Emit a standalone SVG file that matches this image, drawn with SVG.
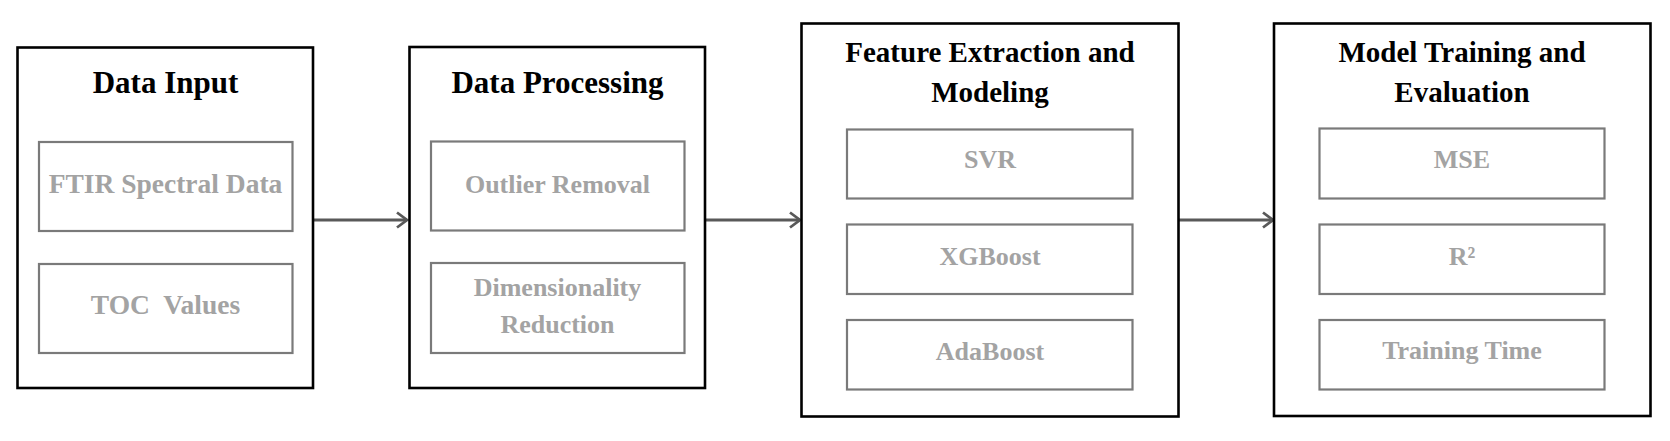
<svg xmlns="http://www.w3.org/2000/svg" width="1670" height="441" viewBox="0 0 1670 441">
<style>
.outer{fill:#fff;stroke:#000;stroke-width:2.6}
.inner{fill:#fff;stroke:#7a7a7a;stroke-width:2.2}
.title{font-family:"Liberation Serif","Times New Roman",serif;font-weight:bold;font-size:29px;fill:#000;text-anchor:middle}
.big{font-size:31px}
.item{font-family:"Liberation Serif","Times New Roman",serif;font-weight:bold;font-size:26px;fill:#a3a3a3;text-anchor:middle}
.bigitem{font-size:27.5px}
.conn{fill:none;stroke:#595959;stroke-width:2.8}
</style>
<defs>
<marker id="arr" markerUnits="userSpaceOnUse" markerWidth="20" markerHeight="20" refX="13" refY="10" orient="auto">
<path d="M3,2.5 L13,10 L3,17.5" fill="none" stroke="#595959" stroke-width="2.8"/>
</marker>
</defs>
<g id="connectors">
<line class="conn" x1="313" y1="220" x2="407" y2="220" marker-end="url(#arr)"/>
<line class="conn" x1="705" y1="220" x2="800" y2="220" marker-end="url(#arr)"/>
<line class="conn" x1="1178" y1="220" x2="1273" y2="220" marker-end="url(#arr)"/>
</g>
<g id="data-input">
<rect class="outer" x="17.5" y="47.5" width="295.5" height="340.5"/>
<text class="title big" x="165.5" y="93">Data Input</text>
<rect class="inner" x="39" y="142" width="253.5" height="89"/>
<text class="item bigitem" x="165.5" y="193">FTIR Spectral Data</text>
<rect class="inner" x="39" y="264" width="253.5" height="89"/>
<text class="item bigitem" x="165.5" y="313.5" xml:space="preserve">TOC  Values</text>
</g>
<g id="data-processing">
<rect class="outer" x="409.5" y="47" width="295.5" height="341"/>
<text class="title big" x="557.5" y="93">Data Processing</text>
<rect class="inner" x="431" y="141.5" width="253.5" height="89"/>
<text class="item" x="557.5" y="192.5">Outlier Removal</text>
<rect class="inner" x="431" y="263" width="253.5" height="90"/>
<text class="item" x="557.5" y="295.5">Dimensionality</text>
<text class="item" x="557.5" y="333">Reduction</text>
</g>
<g id="feature-extraction">
<rect class="outer" x="801.5" y="23.5" width="377" height="393"/>
<text class="title" x="990" y="62">Feature Extraction and</text>
<text class="title" x="990" y="101.5">Modeling</text>
<rect class="inner" x="847" y="129.5" width="285.5" height="69"/>
<text class="item" x="990" y="168">SVR</text>
<rect class="inner" x="847" y="224.5" width="285.5" height="69.5"/>
<text class="item" x="990" y="264.5">XGBoost</text>
<rect class="inner" x="847" y="320" width="285.5" height="69.5"/>
<text class="item" x="990" y="360">AdaBoost</text>
</g>
<g id="model-training">
<rect class="outer" x="1274" y="23.5" width="376.5" height="392.5"/>
<text class="title" x="1462" y="62">Model Training and</text>
<text class="title" x="1462" y="101.5">Evaluation</text>
<rect class="inner" x="1319.5" y="128.5" width="285" height="70"/>
<text class="item" x="1462" y="168">MSE</text>
<rect class="inner" x="1319.5" y="224.5" width="285" height="69.5"/>
<text class="item" x="1462" y="264.5">R²</text>
<rect class="inner" x="1319.5" y="320" width="285" height="69.5"/>
<text class="item" x="1462" y="359">Training Time</text>
</g>
</svg>
